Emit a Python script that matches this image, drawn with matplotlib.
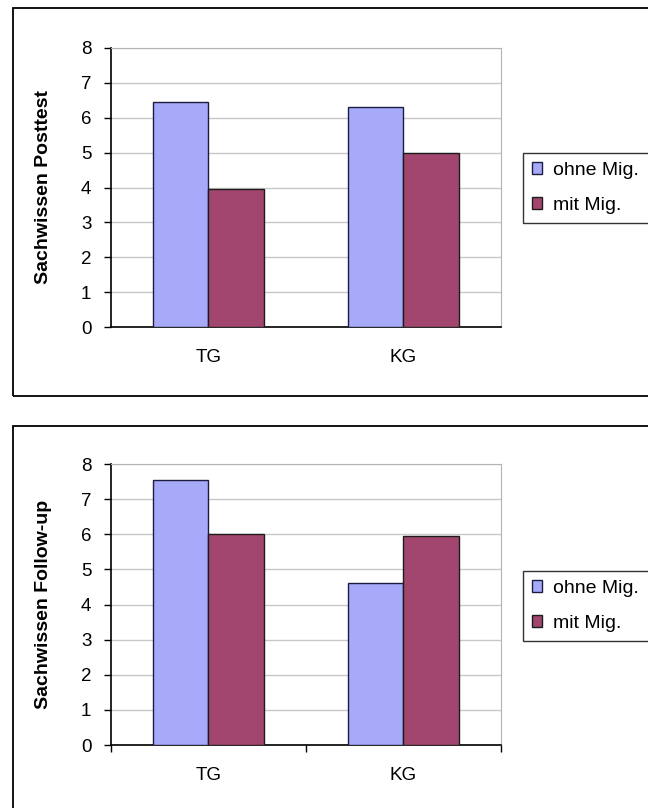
import matplotlib
matplotlib.use("Agg")
import matplotlib.pyplot as plt
from matplotlib.patches import Rectangle

# Gruppen und Mittelwerte (Sachwissen)
gruppen = ["TG", "KG"]
serien = ["ohne Mig.", "mit Mig."]
posttest_ohne = [6.45, 6.3]
posttest_mit = [3.95, 5.0]
followup_ohne = [7.55, 4.6]
followup_mit = [6.0, 5.95]
y_ticks = [0, 1, 2, 3, 4, 5, 6, 7, 8]

farben = ["#a7a9f9", "#a3466f"]

plt.rcParams["font.family"] = ["Liberation Sans", "DejaVu Sans"]

W, H = 648, 808
fig = plt.figure(figsize=(W / 100, H / 100), dpi=100, facecolor="white")

# Rahmen um beide Diagramme
fig.add_artist(Rectangle((13 / W, 1 - 396 / H), 1.2, 388 / H, transform=fig.transFigure,
                         fill=False, edgecolor="black", linewidth=1.3))
fig.add_artist(Rectangle((13 / W, -0.2), 1.2, 0.2 + 1 - 426 / H, transform=fig.transFigure,
                         fill=False, edgecolor="black", linewidth=1.3))


def balken(ax, ohne, mit, ylabel, kreuz_ticks):
    bw = 1 / 3.5
    x = range(len(gruppen))
    ax.bar([i - bw / 2 for i in x], ohne, bw, color=farben[0], edgecolor="#1c1c40",
           linewidth=1.0, label=serien[0], zorder=3)
    ax.bar([i + bw / 2 for i in x], mit, bw, color=farben[1], edgecolor="#1c1c1c",
           linewidth=1.0, label=serien[1], zorder=3)
    ax.set_xlim(-0.5, 1.5)
    ax.set_ylim(0, 8)
    ax.set_yticks(y_ticks)
    ax.grid(axis="y", color="#c8c8c8", linewidth=1.0, zorder=0)
    ax.tick_params(axis="y", direction="out", length=5, width=1, pad=9, labelsize=13.5)
    ax.set_xticks(range(len(gruppen)))
    ax.set_xticklabels(gruppen)
    ax.tick_params(axis="x", which="major", length=0, pad=16, labelsize=13.5)
    if kreuz_ticks:
        ax.set_xticks([-0.5, 0.5, 1.5], minor=True)
        ax.tick_params(axis="x", which="minor", direction="out", length=5, width=1)
    for s in ["top", "right"]:
        ax.spines[s].set_color("#b4b4b4")
    for s in ["left", "bottom"]:
        ax.spines[s].set_color("black")
        ax.spines[s].set_linewidth(1.2)
    ax.set_ylabel(ylabel, fontsize=14, fontweight="bold")
    ax.yaxis.set_label_coords(-0.15, 0.5)


ax1 = fig.add_axes([110.7 / W, 1 - 327 / H, 390.3 / W, 279 / H])
balken(ax1, posttest_ohne, posttest_mit, "Sachwissen Posttest", False)
ax2 = fig.add_axes([110.7 / W, 1 - 745 / H, 390.3 / W, 281 / H])
balken(ax2, followup_ohne, followup_mit, "Sachwissen Follow-up", True)

# Legende rechts, reicht über den Bildrand hinaus
for ax, top in [(ax1, 153), (ax2, 571)]:
    leg = fig.legend(*ax.get_legend_handles_labels(), loc="upper left", mode="expand",
                     bbox_to_anchor=(523 / W, 1 - top / H, 0.3, 0),
                     bbox_transform=fig.transFigure,
                     frameon=True, fancybox=False, fontsize=14, handlelength=0.55,
                     handleheight=0.55, handletextpad=0.55, labelspacing=0.95,
                     borderpad=0.45, borderaxespad=0)
    leg.get_frame().set_edgecolor("black")
    leg.get_frame().set_linewidth(1.0)

fig.savefig("out.png", dpi=100, facecolor="white")
